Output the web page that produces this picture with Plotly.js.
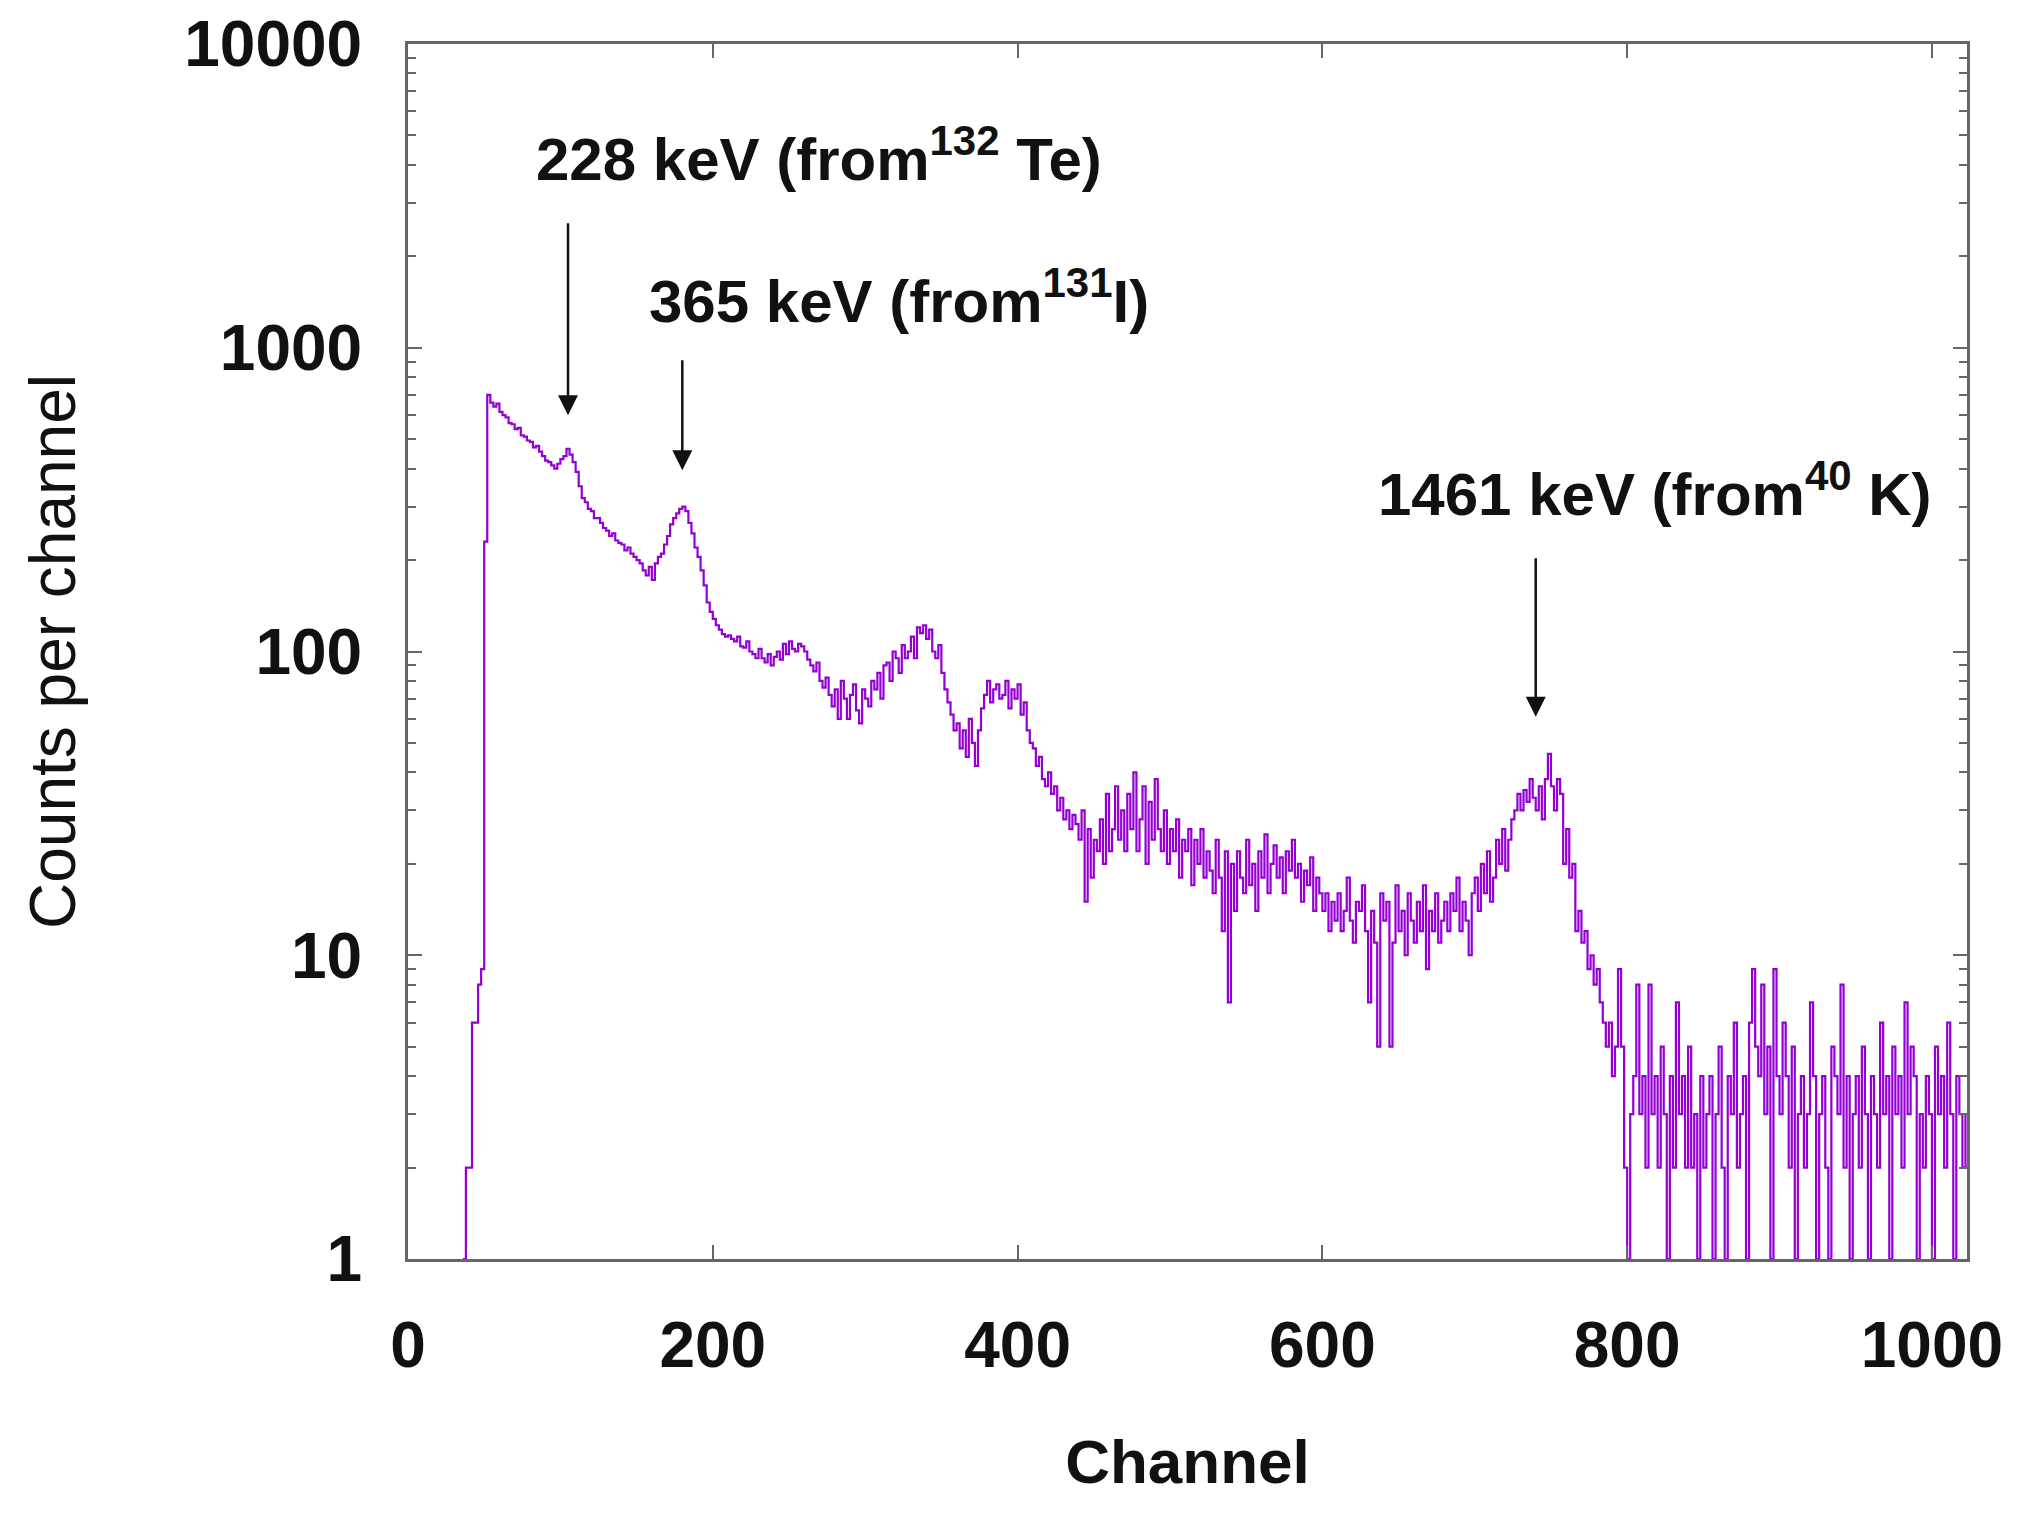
<!DOCTYPE html>
<html>
<head>
<meta charset="utf-8">
<script src="https://cdn.plot.ly/plotly-3.0.1.min.js"></script>
<style>html,body{margin:0;padding:0;background:#fff;}#chart{width:2024px;height:1519px;}</style>
</head>
<body>
<div id="chart"></div>
<script>
// Gamma spectrum, counts per 2-channel step
const firstChannel = 36;
const channelStep = 2;

// channels 36 - 274
const countsLow = [
  1, 2, 2, 6, 6, 8, 9, 230, 700, 660,
  640, 655, 615, 600, 590, 565, 560, 540, 545, 515,
  510, 495, 490, 470, 475, 455, 440, 425, 420, 410,
  400, 415, 430, 440, 465, 445, 420, 390, 350, 320,
  310, 295, 290, 275, 275, 265, 255, 250, 240, 245,
  232, 228, 225, 215, 220, 210, 205, 200, 195, 185,
  178, 190, 172, 195, 205, 210, 225, 240, 262, 275,
  285, 295, 300, 290, 265, 245, 220, 205, 185, 165,
  145, 135, 128, 122, 118, 114, 112, 113, 110, 108,
  112, 104, 103, 108, 100, 98, 95, 102, 95, 92,
  98, 90, 96, 100, 94, 106, 98, 108, 102, 100,
  106, 104, 100, 94, 90, 86, 92, 80, 76, 82
];
// channels 276 - 534
const countsMid = [
  72, 66, 75, 60, 80, 70, 60, 72, 78, 64,
  58, 75, 70, 66, 80, 75, 85, 70, 90, 92,
  80, 100, 95, 85, 105, 95, 100, 112, 95, 120,
  115, 122, 110, 118, 100, 95, 105, 85, 75, 68,
  62, 55, 58, 48, 55, 45, 60, 50, 42, 55,
  65, 72, 80, 68, 75, 78, 70, 72, 80, 65,
  75, 70, 78, 62, 68, 55, 50, 48, 42, 45,
  38, 36, 40, 34, 36, 30, 33, 28, 30, 26,
  29, 27, 24, 30, 15, 26, 18, 24, 22, 28,
  20, 34, 22, 26, 36, 24, 30, 22, 34, 26,
  40, 22, 28, 36, 20, 32, 24, 38, 26, 22,
  30, 20, 26, 22, 28, 18, 24, 22, 26, 17,
  24, 20, 26, 18, 22, 19, 16, 24, 18, 12
];
// channels 536 - 794
const countsHigh = [
  22, 7, 20, 14, 22, 18, 16, 24, 17, 20,
  14, 22, 18, 25, 16, 20, 23, 18, 21, 16,
  22, 19, 24, 18, 20, 15, 19, 17, 21, 14,
  18, 16, 14, 16, 12, 15, 13, 16, 12, 14,
  18, 13, 11, 15, 14, 17, 12, 7, 14, 11,
  5, 16, 13, 15, 5, 11, 17, 12, 14, 10,
  16, 13, 11, 15, 12, 17, 9, 14, 12, 16,
  11, 13, 15, 12, 16, 14, 18, 12, 15, 13,
  10, 16, 18, 14, 20, 16, 22, 15, 18, 24,
  20, 26, 19, 24, 28, 30, 34, 30, 35, 32,
  38, 33, 30, 36, 28, 38, 46, 36, 30, 38,
  34, 20, 26, 18, 20, 12, 14, 11, 12, 9,
  10, 8, 9, 7, 6, 5, 6, 4, 5, 9
];
// channels 796 - 1022
const countsTail = [
  5, 2, 1, 3, 4, 8, 3, 4, 2, 8,
  3, 4, 2, 5, 3, 1, 4, 2, 7, 3,
  4, 2, 5, 2, 3, 1, 4, 2, 3, 4,
  1, 3, 5, 2, 1, 4, 3, 6, 2, 3,
  4, 1, 6, 9, 5, 4, 8, 3, 5, 1,
  9, 4, 3, 6, 4, 2, 5, 1, 3, 4,
  2, 3, 7, 4, 1, 3, 4, 2, 1, 5,
  4, 3, 8, 2, 4, 1, 3, 4, 2, 5,
  3, 1, 4, 3, 2, 6, 3, 4, 1, 5,
  3, 4, 2, 7, 3, 5, 4, 1, 3, 2,
  4, 3, 1, 5, 3, 4, 2, 6, 3, 1,
  4, 3, 2, 3
];

const xTickVals = [0, 200, 400, 600, 800, 1000];
const yTickVals = [1, 10, 100, 1000, 10000];
const yTickText = ['1', '10', '100', '1000', '10000'];

const peakLabels = ['228 keV (from<sup>132</sup> Te)', '365 keV (from<sup>131</sup>I)', '1461 keV (from<sup>40</sup> K)'];
const peakChannels = [105, 180, 740];
const labelChannels = [270, 322, 818];
const labelCounts = [4300, 1470, 340];
const arrowTopCounts = [2600, 920, 205];
const arrowTipCounts = [600, 395, 61];

const counts = countsLow.concat(countsMid, countsHigh, countsTail);
const channels = counts.map((_, i) => firstChannel + channelStep * i);

const FONT = 'Liberation Sans, Arial, sans-serif';
const axisGray = '#666666';

const annotations = [];
for (let i = 0; i < peakLabels.length; i++) {
  annotations.push({
    x: labelChannels[i], y: Math.log10(labelCounts[i]), xref: 'x', yref: 'y',
    text: '<b>' + peakLabels[i] + '</b>', showarrow: false,
    xanchor: 'center', yanchor: 'middle',
    font: {family: FONT, size: 60, color: '#111'}
  });
  annotations.push({
    x: peakChannels[i], y: Math.log10(arrowTipCounts[i]), xref: 'x', yref: 'y',
    ax: peakChannels[i], ay: Math.log10(arrowTopCounts[i]), axref: 'x', ayref: 'y',
    text: '', showarrow: true, arrowhead: 2, arrowsize: 1.6, arrowwidth: 2.5, arrowcolor: '#111',
    standoff: 0
  });
}

const trace = {
  x: channels, y: counts, type: 'scatter', mode: 'lines',
  line: {shape: 'hv', color: '#9400D3', width: 2.2},
  hoverinfo: 'skip'
};

const layout = {
  width: 2024, height: 1519,
  paper_bgcolor: '#ffffff', plot_bgcolor: '#ffffff',
  margin: {l: 408, r: 57, t: 44, b: 260, pad: 0},
  showlegend: false,
  font: {family: FONT, color: '#111'},
  xaxis: {
    range: [0, 1023], tickvals: xTickVals, ticks: 'inside', ticklen: 14, tickwidth: 2, tickcolor: axisGray,
    showline: true, linecolor: axisGray, linewidth: 3, mirror: 'ticks',
    showgrid: false, zeroline: false, automargin: false,
    tickfont: {family: FONT, size: 64, color: '#111', weight: 'bold'},
    ticklabelstandoff: 28,
    title: {text: '<b>Channel</b>', font: {family: FONT, size: 62, color: '#111'}, standoff: 60}
  },
  yaxis: {
    type: 'log', range: [0, 4], tickvals: yTickVals, ticktext: yTickText,
    ticks: 'inside', ticklen: 14, tickwidth: 2, tickcolor: axisGray,
    minor: {ticks: 'inside', dtick: 'D1', ticklen: 8, tickwidth: 2, tickcolor: axisGray, showgrid: false},
    showline: true, linecolor: axisGray, linewidth: 3, mirror: 'ticks',
    showgrid: false, zeroline: false, automargin: false,
    tickfont: {family: FONT, size: 64, color: '#111', weight: 'bold'},
    ticklabelstandoff: 30,
    title: {text: 'Counts per channel', font: {family: FONT, size: 64, color: '#111'}, standoff: 88}
  },
  annotations: annotations
};

Plotly.newPlot('chart', [trace], layout, {staticPlot: true, displayModeBar: false});
</script>
</body>
</html>
